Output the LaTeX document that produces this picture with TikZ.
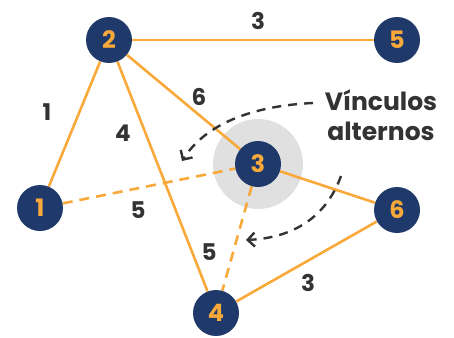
\documentclass[tikz,border=0pt]{standalone}
\usepackage{fontspec}
\setmainfont{Poppins}[BoldFont={* Bold}]
\usetikzlibrary{arrows.meta,backgrounds}
\definecolor{navy}{HTML}{1F3A6A}
\definecolor{amber}{HTML}{F9A83A}
\definecolor{ink}{HTML}{333333}
\definecolor{halo}{HTML}{E0E0E0}
\begin{document}
\begin{tikzpicture}[x=1pt,y=-1pt,
  vertex/.style={circle,fill=navy,minimum size=46pt,inner sep=0pt,
    text=amber,font=\fontsize{24}{24}\selectfont\bfseries},
  link/.style={draw=amber,line width=2.6pt},
  altlink/.style={link,dash pattern=on 10pt off 7pt},
  weight/.style={text=ink,font=\fontsize{23}{23}\selectfont\bfseries},
  hint/.style={draw=ink,line width=2.4pt,dash pattern=on 9pt off 7pt,
    -{Straight Barb[length=7pt,width=14pt,line width=2.4pt]}}]
\useasboundingbox (0,0) rectangle (454,337);
% vertices
\node[vertex] (n2) at (109,40) {2};
\node[vertex] (n5) at (397,40) {5};
\node[vertex] (n1) at (40,208) {1};
\node[vertex] (n3) at (258,164) {3};
\node[vertex] (n6) at (397,210) {6};
\node[vertex] (n4) at (216,313) {4};
% highlight of the hub and the edges, kept beneath the vertices
\begin{scope}[on background layer]
  \fill[halo] (n3.center) circle (45);
  \draw[link] (n2) -- (n5);
  \draw[link] (n2) -- (n1);
  \draw[link] (n2) -- (n4);
  \draw[link] (n2) -- (n3);
  \draw[link] (n3) -- (n6);
  \draw[link] (n6) -- (n4);
  \draw[altlink] (n1) -- (n3);
  \draw[altlink] (n3) -- (n4);
\end{scope}
% weights
\node[weight] (w25) at (258,21) {3};
\node[weight] (w21) at (47,112) {1};
\node[weight] (w24) at (123,133) {4};
\node[weight] (w23) at (199,97) {6};
\node[weight] (w13) at (138,210) {5};
\node[weight] (w34) at (209,252) {5};
\node[weight] (w64) at (308,283) {3};
% caption and pointers
\node[text=ink,font=\fontsize{25}{30}\selectfont\bfseries,align=center] (cap) at (381,115) {Vínculos\\alternos};
\coordinate (s1) at (313,103);
\coordinate (e1) at (182,161);
\coordinate (s2) at (341,176);
\coordinate (e2) at (246,240);
\draw[hint] (s1) .. controls (250,106) and (205,125) .. (e1);
\draw[hint] (s2) .. controls (325,220) and (290,238) .. (e2);
\end{tikzpicture}
\end{document}
